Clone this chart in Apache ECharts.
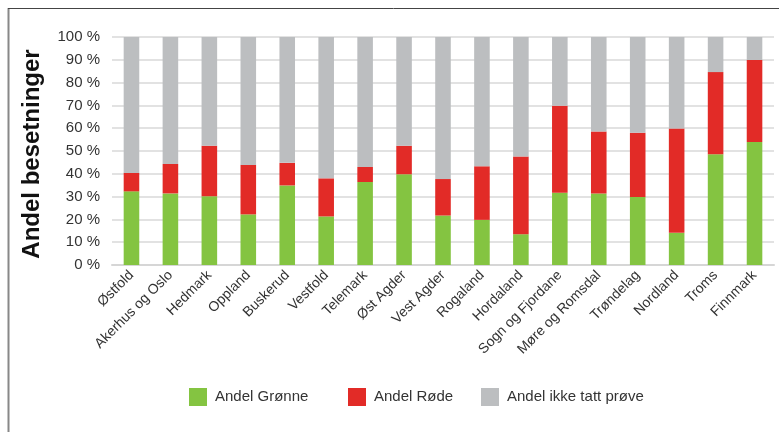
<!DOCTYPE html>
<html>
<head>
<meta charset="utf-8">
<script src="https://cdn.jsdelivr.net/npm/echarts@6/dist/echarts.min.js"></script>
<style>
  html, body { margin: 0; padding: 0; background: #fff; }
  #chart { width: 779px; height: 432px; }
</style>
</head>
<body>
<div id="chart"></div>
<script>
// Fylker
const categories = ['Østfold', 'Akerhus og Oslo', 'Hedmark', 'Oppland', 'Buskerud', 'Vestfold',
  'Telemark', 'Øst Agder', 'Vest Agder', 'Rogaland', 'Hordaland', 'Sogn og Fjordane',
  'Møre og Romsdal', 'Trøndelag', 'Nordland', 'Troms', 'Finnmark'];

// Andel grønne besetninger (%)
const gronne = [32.3, 31.4, 30.1, 22.2, 34.9, 21.3, 36.4, 39.8, 21.7, 19.8, 13.5, 31.7, 31.4, 29.8, 14.1, 48.6, 53.9];
// Andel røde besetninger (%)
const rode = [8.1, 12.9, 22.2, 21.7, 9.9, 16.7, 6.6, 12.5, 16.0, 23.5, 34.1, 38.2, 27.2, 28.2, 45.8, 36.0, 36.0];
// Andel som ikke har tatt prøve (%)
const ikkeTatt = [59.6, 55.7, 47.7, 56.1, 55.2, 62.0, 57.0, 47.7, 62.3, 56.7, 52.4, 30.1, 41.4, 42.0, 40.1, 15.4, 10.1];

const yTicks = [0, 10, 20, 30, 40, 50, 60, 70, 80, 90, 100];

const seriesNames = ['Andel Grønne', 'Andel Røde', 'Andel ikke tatt prøve'];
const seriesColors = ['#84c441', '#e22b27', '#bcbec0'];
const legendLeft = [189, 348, 481];

const font = 'Liberation Sans, Arial, sans-serif';
const chart = echarts.init(document.getElementById('chart'), null, { renderer: 'canvas' });

const barBase = { type: 'bar', stack: 'total', barWidth: '40%', emphasis: { disabled: true } };

chart.setOption({
  animation: false,
  graphic: [
    // frame: left and top edges
    { type: 'line', shape: { x1: 8.5, y1: 8, x2: 8.5, y2: 432 }, style: { stroke: '#888', lineWidth: 2 }, z: -10 },
    { type: 'line', shape: { x1: 8, y1: 8.5, x2: 779, y2: 8.5 }, style: { stroke: '#444', lineWidth: 1 }, z: -10 }
  ],
  grid: { left: 112, right: 5, top: 37, bottom: 167 },
  legend: seriesNames.map((name, i) => ({
    top: 388,
    left: legendLeft[i],
    padding: 0,
    itemWidth: 18,
    itemHeight: 18,
    icon: 'rect',
    textStyle: { fontFamily: font, fontSize: 15, color: '#333', padding: [0, 0, 0, 3] },
    data: [name]
  })),
  xAxis: {
    type: 'category',
    data: categories,
    axisLine: { show: true, lineStyle: { color: '#d6d6d6', width: 2 } },
    axisTick: { show: false },
    axisLabel: {
      interval: 0,
      rotate: 45,
      margin: 8,
      fontFamily: font,
      fontSize: 14,
      color: '#333'
    }
  },
  yAxis: {
    type: 'value',
    min: 0,
    max: 100,
    interval: 10,
    name: 'Andel besetninger',
    nameLocation: 'middle',
    nameGap: 68,
    nameTextStyle: { fontFamily: font, fontSize: 24, color: '#111', fontWeight: 'bold', padding: [0, 6, 0, 0] },
    axisLine: { show: false },
    axisTick: { show: false },
    splitLine: { lineStyle: { color: '#d9d9d9', width: 1.5 } },
    axisLabel: {
      margin: 12,
      fontFamily: font,
      fontSize: 15,
      color: '#333',
      formatter: v => yTicks.includes(v) ? v + ' %' : ''
    }
  },
  series: [gronne, rode, ikkeTatt].map((data, i) => Object.assign({}, barBase, {
    name: seriesNames[i],
    data: data,
    itemStyle: { color: seriesColors[i] }
  }))
});
</script>
</body>
</html>
